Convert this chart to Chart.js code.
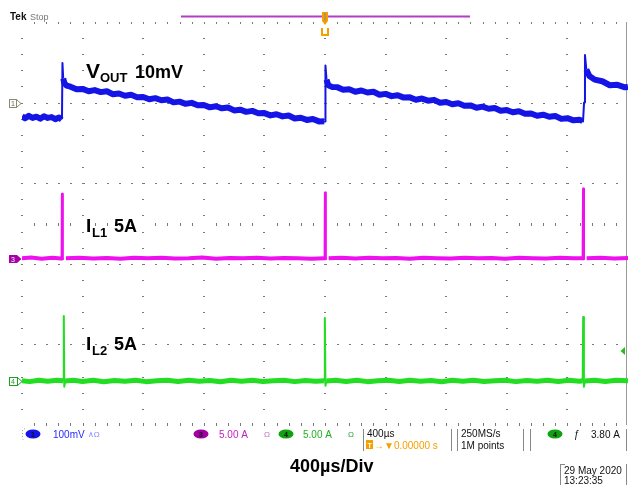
<!DOCTYPE html>
<html><head><meta charset="utf-8">
<script src="https://cdn.jsdelivr.net/npm/chart.js@4/dist/chart.umd.min.js"></script>
<style>html,body{margin:0;padding:0;background:#fff;}#wrap{width:628px;height:485px;}</style>
</head><body><div id="wrap"><canvas id="c" width="628" height="485"></canvas></div>
<script>
// ---- graticule ticks (400 µs/div horizontally; 10 mV/div for Vout vertically) ----
const xDivUs = [0,400,800,1200,1600,2000,2400,2800,3200,3600,4000];
const yDivMv = [10,0,-10,-20,-30,-40];

// ---- Vout (mV, relative to channel-1 marker): noisy plateau/ramp segments ----
const voutTimeUs = [0,20,45,70,95,120,145,170,195,220,245,262,
 265,
 272,280,295,
 320,360,400,440,480,520,560,600,640,680,720,760,800,840,880,920,960,1000,1040,1080,1120,1160,1200,1240,1280,1320,1360,1400,1440,1480,1520,1560,1600,1640,1680,1720,1760,1800,1840,1880,1920,1960,1995,
 2001,
 2010,2022,2045,
 2080,2120,2160,2200,2240,2280,2320,2360,2400,2440,2480,2520,2560,2600,2640,2680,2720,2760,2800,2840,2880,2920,2960,3000,3040,3080,3120,3160,3200,3240,3280,3320,3360,3400,3440,3480,3520,3560,3600,3640,3680,3700,
 3712,
 3725,3745,3780,3830,3880,3930,3980,4000];
const voutMv = [-1.70,-1.95,-1.65,-1.90,-1.75,-2.00,-1.70,-1.90,-1.80,-2.05,-1.85,-2.10,
 null,
 3.00,2.40,2.10,
 1.97,1.65,1.70,1.40,1.55,1.30,1.40,1.03,1.13,0.85,0.97,0.67,0.70,0.41,0.55,0.29,0.39,0.03,0.12,-0.15,-0.03,-0.33,-0.30,-0.59,-0.45,-0.71,-0.61,-0.97,-0.88,-1.15,-1.03,-1.33,-1.30,-1.59,-1.45,-1.71,-1.61,-1.97,-1.88,-2.15,-2.03,-2.33,-2.30,
 null,
 2.85,2.15,1.95,
 1.92,1.60,1.65,1.35,1.50,1.25,1.35,0.98,1.08,0.80,0.92,0.62,0.65,0.36,0.50,0.24,0.34,-0.02,0.07,-0.20,-0.08,-0.38,-0.35,-0.64,-0.50,-0.76,-0.66,-1.02,-0.93,-1.20,-1.08,-1.38,-1.35,-1.64,-1.50,-1.76,-1.66,-2.02,-1.93,-2.20,-2.12,-2.28,
 null,
 4.10,3.30,2.85,2.65,2.15,2.20,1.90,1.95];
// ---- Vout fast edges (load steps) ----
const voutEdgeTimeUs = [258,264,267,272,276, 1995,2000,2003,2010,2014, 3700,3703,3710,3716,3725];
const voutEdgeMv     = [-1.85,-1.95,4.90,3.00,null, -2.30,-2.35,4.60,2.85,null, -2.28,-2.35,0.00,5.90,4.10];

// ---- IL1 (A) baseline and spikes ----
const il1TimeUs = [0,60,130,200,258,263,266,290,380,470,560,650,740,830,920,1010,1100,1190,1280,1370,1460,1550,1640,1730,1820,1910,1995,
 1999,2003,2024,2110,2200,2290,2380,2470,2560,2650,2740,2830,2920,3010,3100,3190,3280,3370,3460,3550,3640,3698,
 3702,3707,3727,3820,3910,4000];
const il1Amp = [0.05,0.09,0.02,0.07,0.03,0.05,null,0.05,0.08,0.03,0.06,0.02,0.07,0.04,0.08,0.03,0.05,0.09,0.02,0.06,0.04,0.08,0.03,0.06,0.05,0.02,0.05,
 0.04,null,0.05,0.07,0.03,0.08,0.04,0.06,0.02,0.07,0.05,0.03,0.08,0.04,0.06,0.02,0.07,0.05,0.03,0.08,0.04,0.05,
 0.04,null,0.05,0.07,0.03,0.06];
const il1SpikeTimeUs = [263,265,268,272, 1999,2001,2004,2008, 3702,3705,3708,3712];
const il1SpikeAmp    = [0.05,4.03,0.00,null, 0.04,4.10,0.00,null, 0.04,4.35,0.00,null];

// ---- IL2 (A) baseline and spikes ----
const il2TimeUs = [0,50,110,170,230,273,278,285,340,400,470,540,610,680,750,820,890,960,1030,1100,1170,1240,1310,1380,1450,1520,1590,1660,1730,1800,1870,1940,1996,
 2001,2009,2070,2140,2210,2280,2350,2420,2490,2560,2630,2700,2770,2840,2910,2980,3050,3120,3190,3260,3330,3400,3470,3540,3610,3680,3701,
 3706,3716,3780,3850,3920,4000];
const il2Amp = [0.02,-0.04,0.05,-0.02,0.04,0.01,null,0.00,0.05,-0.03,0.04,-0.05,0.03,-0.02,0.05,-0.04,0.02,0.04,-0.03,0.05,-0.02,0.03,-0.05,0.04,-0.02,0.05,-0.03,0.02,0.04,-0.04,0.03,-0.02,0.01,
 null,0.00,0.04,-0.03,0.05,-0.04,0.02,0.04,-0.03,0.05,-0.02,0.03,-0.05,0.04,-0.02,0.05,-0.03,0.02,0.04,-0.04,0.03,-0.02,0.05,-0.03,0.04,-0.02,0.01,
 null,0.00,0.04,-0.03,0.05,0.02];
const il2SpikeTimeUs = [273,276,279,285,288, 1996,1999,2003,2009,2012, 3701,3704,3709,3716,3719];
const il2SpikeAmp    = [0.01,4.03,-0.35,0.00,null, 0.01,3.90,-0.30,0.00,null, 0.01,3.97,-0.35,0.00,null];

const pts = (t, v) => t.map((x, i) => ({x: x, y: v[i]}));

const graticule = {
  id: 'graticule',
  beforeDatasetsDraw(chart) {
    const {ctx, scales: {x, yV}} = chart;
    const xs = xDivUs.map(v => x.getPixelForValue(v));
    const ys = yDivMv.map(v => yV.getPixelForValue(v));
    const dx = (xs[1] - xs[0]) / 5, dy = (ys[1] - ys[0]) / 5;
    ctx.save();
    ctx.fillStyle = '#7a7a7a';
    for (let i = 0; i < 10; i++) for (let k = 1; k < 25; k++)
      ctx.fillRect(Math.round(xs[i]) - 1, Math.round(ys[0] + k * dy), 2, 1);
    for (let j = 1; j < 5; j++) for (let k = 1; k < 50; k++)
      ctx.fillRect(Math.round(xs[0] + k * dx), Math.round(ys[j]), 2, 1);
    const yc = yV.getPixelForValue(-15);
    for (let k = 1; k < 50; k++) if (k % 5) ctx.fillRect(Math.round(xs[0] + k * dx), Math.round(yc) - 1, 1, 3);
    for (let k = 1; k < 50; k++) {
      ctx.fillRect(Math.round(xs[0] + k * dx), Math.round(ys[0]), 1, 2);
      ctx.fillRect(Math.round(xs[0] + k * dx), Math.round(ys[5]) - 2, 1, 3);
    }
    ctx.fillStyle = '#9a9a9a';
    ctx.fillRect(Math.round(xs[10]) - 2, Math.round(ys[0]), 1, Math.round(ys[5] - ys[0]));
    ctx.restore();
  }
};

const F = '"Liberation Sans", Arial, "DejaVu Sans", sans-serif';
const annotations = {
  id: 'annotations',
  afterDatasetsDraw(chart) {
    const ctx = chart.ctx;
    ctx.save();
    ctx.textBaseline = 'alphabetic';
    const line = (x1, y1, x2, y2) => { ctx.beginPath(); ctx.moveTo(x1, y1); ctx.lineTo(x2, y2); ctx.stroke(); };
    // header
    ctx.fillStyle = '#111'; ctx.font = 'bold 10px ' + F; ctx.fillText('Tek', 10, 20);
    ctx.fillStyle = '#777'; ctx.font = '9px ' + F; ctx.fillText('Stop', 30, 20);
    ctx.strokeStyle = '#b040c0'; ctx.lineWidth = 2; line(181, 16.5, 470, 16.5);
    // trigger position marker
    ctx.fillStyle = '#f5a000';
    ctx.beginPath(); ctx.moveTo(322, 12); ctx.lineTo(328, 12); ctx.lineTo(328, 21); ctx.lineTo(325, 25); ctx.lineTo(322, 21); ctx.closePath(); ctx.fill();
    ctx.fillStyle = '#888'; ctx.fillRect(324.5, 13, 1, 8);
    ctx.strokeStyle = '#f5a000'; ctx.lineWidth = 2;
    ctx.beginPath(); ctx.moveTo(322, 28); ctx.lineTo(322, 35); ctx.lineTo(328, 35); ctx.lineTo(328, 28); ctx.stroke();
    // channel ground markers
    ctx.lineWidth = 1;
    ctx.strokeStyle = '#8a8a70'; ctx.strokeRect(9.5, 99.5, 7, 8);
    ctx.beginPath(); ctx.moveTo(16.5, 99.5); ctx.lineTo(21, 103.5); ctx.lineTo(16.5, 107.5); ctx.stroke();
    ctx.fillStyle = '#6a6a50'; ctx.font = '7px ' + F; ctx.fillText('1', 11, 106);
    ctx.fillStyle = '#a800a8'; ctx.fillRect(9, 255, 8, 8);
    ctx.beginPath(); ctx.moveTo(17, 255); ctx.lineTo(21.5, 259); ctx.lineTo(17, 263); ctx.closePath(); ctx.fill();
    ctx.fillStyle = '#fff'; ctx.fillText('3', 11, 262);
    ctx.strokeStyle = '#20a020'; ctx.strokeRect(9.5, 377.5, 8, 8);
    ctx.beginPath(); ctx.moveTo(17.5, 377.5); ctx.lineTo(22, 381.5); ctx.lineTo(17.5, 385.5); ctx.stroke();
    ctx.fillStyle = '#20a020'; ctx.fillText('4', 11, 384);
    // trigger level arrow
    ctx.fillStyle = '#20c020';
    ctx.beginPath(); ctx.moveTo(620.5, 351); ctx.lineTo(625, 347); ctx.lineTo(625, 355); ctx.closePath(); ctx.fill();
    // trace labels
    ctx.fillStyle = '#000';
    ctx.font = 'bold 21px ' + F; ctx.fillText('V', 86, 78);
    ctx.font = 'bold 13px ' + F; ctx.fillText('OUT', 100, 82);
    ctx.font = 'bold 18px ' + F; ctx.fillText('10mV', 135, 78);
    ctx.font = 'bold 19px ' + F; ctx.fillText('I', 86, 232);
    ctx.font = 'bold 13px ' + F; ctx.fillText('L1', 92, 237);
    ctx.font = 'bold 18px ' + F; ctx.fillText('5A', 114, 232);
    ctx.font = 'bold 19px ' + F; ctx.fillText('I', 86, 350);
    ctx.font = 'bold 13px ' + F; ctx.fillText('L2', 92, 355);
    ctx.font = 'bold 18px ' + F; ctx.fillText('5A', 114, 350);
    ctx.fillText('400\u00b5s/Div', 290, 472);
    // status bar
    const ell = (cx, cy, col, lab) => {
      ctx.fillStyle = col; ctx.beginPath(); ctx.ellipse(cx, cy, 7.5, 4.5, 0, 0, Math.PI * 2); ctx.fill();
      ctx.fillStyle = '#111'; ctx.font = 'bold 7px ' + F; ctx.textAlign = 'center'; ctx.fillText(lab, cx, cy + 2.5); ctx.textAlign = 'left';
    };
    ctx.strokeStyle = '#999'; ctx.setLineDash([1, 2]);
    ctx.beginPath(); ctx.moveTo(25, 428.5); ctx.lineTo(22.5, 430); ctx.lineTo(22.5, 439); ctx.lineTo(25, 440.5); ctx.stroke();
    ctx.setLineDash([]);
    ell(33, 434, '#1515e8', '1');
    ctx.font = '10px ' + F;
    ctx.fillStyle = '#2a2aff'; ctx.fillText('100mV', 53, 438);
    ctx.fillStyle = '#8888ff'; ctx.font = '8px ' + F; ctx.fillText('\u2227\u03a9', 88, 437);
    ell(201, 434, '#a000a0', '3');
    ctx.font = '10px ' + F; ctx.fillStyle = '#c020c0'; ctx.fillText('5.00 A', 219, 438);
    ctx.fillStyle = '#c070c0'; ctx.font = '8px ' + F; ctx.fillText('\u03a9', 264, 437);
    ell(286, 434, '#10a010', '4');
    ctx.font = '10px ' + F; ctx.fillStyle = '#20b020'; ctx.fillText('5.00 A', 303, 438);
    ctx.fillStyle = '#40a040'; ctx.font = '8px ' + F; ctx.fillText('\u03a9', 348, 437);
    ctx.strokeStyle = '#888'; ctx.lineWidth = 1;
    [363.5, 451.5, 457.5, 523.5, 530.5, 626.5].forEach(xv => line(xv, 429, xv, 451));
    ctx.fillStyle = '#111'; ctx.font = '10px ' + F;
    ctx.fillText('400\u00b5s', 367, 437);
    ctx.fillStyle = '#f5a000'; ctx.fillRect(366, 440, 7, 9);
    ctx.fillStyle = '#fff'; ctx.font = 'bold 7px ' + F; ctx.fillText('T', 367.5, 447.5);
    ctx.fillStyle = '#f5a000'; ctx.font = '10px ' + F; ctx.fillText('\u2192\u25bc0.00000 s', 374, 449);
    ctx.fillStyle = '#111';
    ctx.fillText('250MS/s', 461, 437);
    ctx.fillText('1M points', 461, 449);
    ell(555, 434, '#10a010', '4');
    ctx.fillStyle = '#111'; ctx.font = '10px ' + F;
    ctx.fillText('\u0192', 574, 438);
    ctx.fillText('3.80 A', 591, 438);
    line(560.5, 464, 560.5, 485); line(560.5, 464.5, 565, 464.5); line(626.5, 464, 626.5, 485);
    ctx.font = '10px ' + F;
    ctx.fillText('29 May 2020', 564, 474);
    ctx.fillText('13:23:35', 564, 484);
    ctx.restore();
  }
};

const base = {pointRadius: 0, tension: 0, borderJoinStyle: 'round', spanGaps: false};
new Chart(document.getElementById('c'), {
  type: 'line',
  data: {
    datasets: [
      Object.assign({label: 'VOUT', data: pts(voutTimeUs, voutMv), yAxisID: 'yV', borderColor: '#1414e6', borderWidth: 6}, base),
      Object.assign({label: 'VOUT edges', data: pts(voutEdgeTimeUs, voutEdgeMv), yAxisID: 'yV', borderColor: '#1414e6', borderWidth: 2}, base),
      Object.assign({label: 'IL1', data: pts(il1TimeUs, il1Amp), yAxisID: 'yI1', borderColor: '#ee10ee', borderWidth: 4}, base),
      Object.assign({label: 'IL1 spikes', data: pts(il1SpikeTimeUs, il1SpikeAmp), yAxisID: 'yI1', borderColor: '#ee10ee', borderWidth: 2.5}, base),
      Object.assign({label: 'IL2', data: pts(il2TimeUs, il2Amp), yAxisID: 'yI2', borderColor: '#22dd22', borderWidth: 5}, base),
      Object.assign({label: 'IL2 spikes', data: pts(il2SpikeTimeUs, il2SpikeAmp), yAxisID: 'yI2', borderColor: '#22dd22', borderWidth: 2}, base)
    ]
  },
  options: {
    responsive: false, devicePixelRatio: 1, animation: false,
    layout: {padding: {left: 22, top: 22, right: 0, bottom: 60}},
    plugins: {legend: {display: false}, tooltip: {enabled: false}},
    scales: {
      x: {type: 'linear', min: 0, max: 4000, display: false},
      yV: {type: 'linear', min: -40, max: 10, display: false},
      yI1: {type: 'linear', min: -10.3, max: 14.7, display: false},
      yI2: {type: 'linear', min: -2.73, max: 22.27, display: false}
    }
  },
  plugins: [graticule, annotations]
});
</script></body></html>
